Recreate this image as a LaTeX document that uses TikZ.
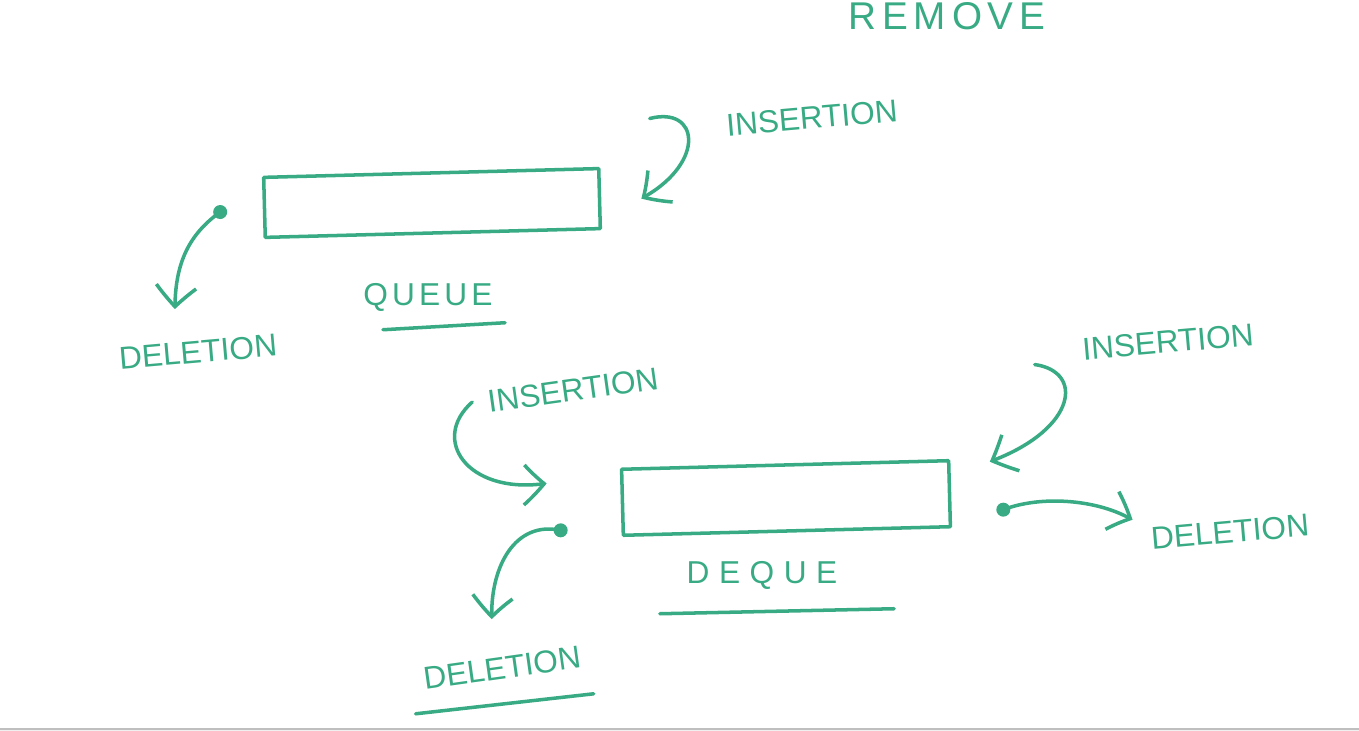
\documentclass[tikz,border=0pt]{standalone}
\usepackage{fontspec}
\setmainfont{Liberation Sans}
\usetikzlibrary{arrows.meta,bending,positioning}
\definecolor{ink}{RGB}{56,170,132}
\tikzset{
  pen/.style={draw=ink, line width=1pt, line cap=round, line join=round},
  word/.style={text=ink, font=\fontsize{9}{9}\selectfont, inner sep=0pt},
  spaced/.style={word, font=\fontsize{9}{9}\selectfont\addfontfeature{LetterSpace=#1}},
  bin/.style={pen, rectangle, inner sep=0pt},
  arr/.style={pen, -{Straight Barb[length=2mm,width=4mm,bend]}},
  dot/.style={circle, fill=ink, inner sep=0pt, minimum size=1.4mm}
}

\begin{document}
\begin{tikzpicture}[x=0.01cm,y=-0.01cm]
    \useasboundingbox (0,0) rectangle (1359,731);
    \clip (0,0) rectangle (1359,731);

    \node(title) [text=ink, font=\fontsize{11}{11}\selectfont\addfontfeature{LetterSpace=15}, inner sep=0pt, anchor=base west] at (848,30) {REMOVE};

    % queue
    \node(queue) [bin, minimum width=3.35cm, minimum height=0.6cm, rotate=1.5] at (432,203) {};
    \node(qname) [spaced=13] at (428,297) {QUEUE};
    \node(qins) [word, rotate=5] at (812,118) {INSERTION};
    \node(qdel) [word, rotate=5] at (198,352) {DELETION};
    \node(qout) [dot] at ([xshift=-4.25mm,yshift=-0.46mm]queue.west) {};

    \draw[arr] ([xshift=-7.6mm,yshift=0.7mm]qins.west) .. controls +(50,-13) and +(65,-35) .. ([xshift=4mm]queue.east);
    \draw[arr] (qout.center) .. controls +(-32,23) and +(0,-45) .. ([xshift=-2.2mm,yshift=3.1mm]qdel.north);
    \draw[pen] ([xshift=-4.5mm,yshift=-1.8mm]qname.south) -- ([xshift=7.7mm,yshift=-1.1mm]qname.south);

    % deque
    \node(deque) [bin, minimum width=3.27cm, minimum height=0.66cm, rotate=1.5] at (786,498) {};
    \node(dname) [spaced=30] at (762,575) {DEQUE};
    \node(dinsl) [word, rotate=8] at (573,390) {INSERTION};
    \node(ddell) [word, rotate=8] at (502,668) {DELETION};
    \node(dinsr) [word, rotate=5] at (1168,342) {INSERTION};
    \node(ddelr) [word, rotate=5] at (1230,532) {DELETION};
    \node(dlout) [dot] at ([xshift=-6mm,yshift=-2.8mm]deque.west) {};
    \node(drout) [dot] at ([xshift=5.2mm,yshift=-1.6mm]deque.east) {};

    \draw[arr] ([xshift=-1.5mm]dinsl.west) .. controls +(-43,38) and +(-78,12) .. ([xshift=-7.4mm,yshift=1.9mm]deque.west);
    \draw[arr] (dlout.center) .. controls +(-47,-10) and +(-2,-50) .. ([xshift=-0.85mm,yshift=3.7mm]ddell.north);
    \draw[arr] ([xshift=-4.7mm,yshift=-1.5mm]dinsr.west) .. controls +(50,7) and +(87,-32) .. ([xshift=3.85mm,yshift=3.2mm]deque.east);
    \draw[arr] (drout.center) .. controls +(39,-15) and +(-33,-20) .. ([xshift=-1.8mm,yshift=1.9mm]ddelr.west);
    \draw[pen] ([xshift=-10.2mm,yshift=-2.4mm]dname.south) -- ([xshift=13.2mm,yshift=-1.9mm]dname.south);
    \draw[pen] ([xshift=-8.8mm,yshift=-3.4mm]ddell.south) -- ([xshift=9mm,yshift=-1.4mm]ddell.south);

    \fill[gray!12] (0,729) rectangle (1359,731);
    \draw[gray!50, line width=0.6pt] (0,729) -- (1359,729);
\end{tikzpicture}
\end{document}
